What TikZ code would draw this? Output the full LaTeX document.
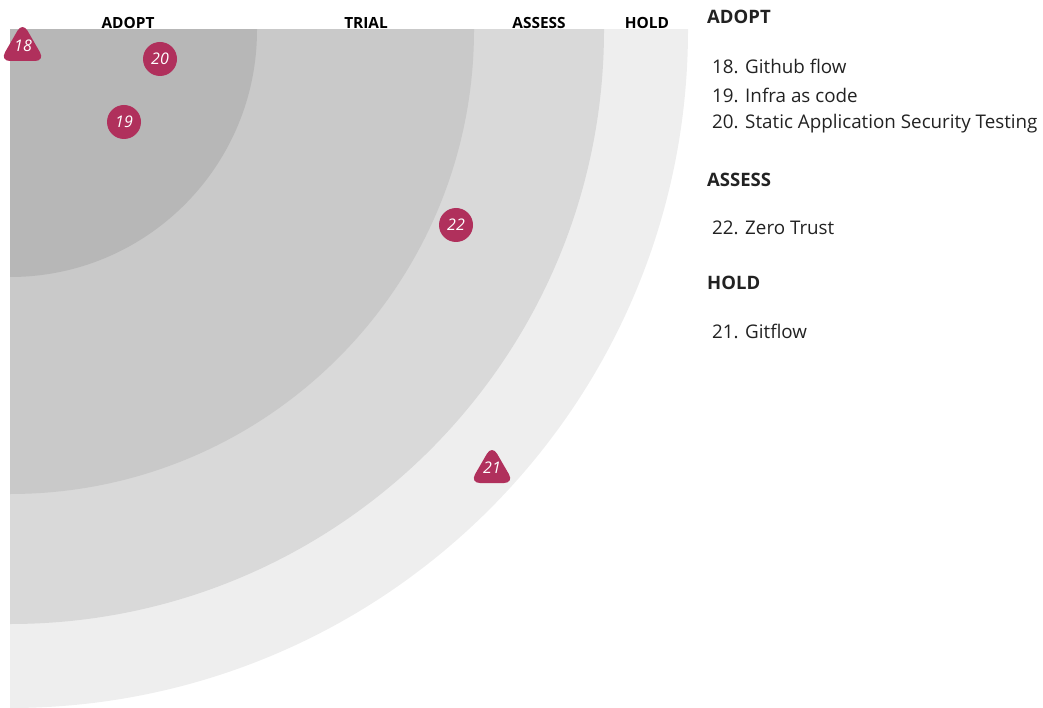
\documentclass[tikz,border=0pt]{standalone}
\usepackage{fontspec}
\setmainfont{Open Sans}
\definecolor{ringadopt}{HTML}{B7B7B7}
\definecolor{ringtrial}{HTML}{C9C9C9}
\definecolor{ringassess}{HTML}{D9D9D9}
\definecolor{ringhold}{HTML}{EEEEEE}
\definecolor{blipred}{HTML}{B0305C}
\definecolor{ink}{HTML}{222222}
\begin{document}
\begin{tikzpicture}[x=1pt,y=-1pt,
  ringlabel/.style={font=\fontsize{15.4}{17}\selectfont\bfseries, text=black, inner sep=0pt},
  legendhead/.style={font=\fontsize{18.5}{21}\selectfont\bfseries, text=ink, anchor=west, inner sep=0pt},
  legenditem/.style={font=\fontsize{18.8}{22}\selectfont, text=ink, anchor=west, inner sep=0pt},
  blipcircle/.style={circle, fill=blipred, minimum size=34pt, inner sep=0pt,
    font=\fontsize{16}{18}\selectfont\itshape, text=white},
  bliptext/.style={font=\fontsize{16}{18}\selectfont\itshape, text=white, inner sep=0pt},
  bliptri/.style={fill=blipred, rounded corners=10pt}]
\useasboundingbox (0,0) rectangle (1043,708);

% quarter rings, outermost first
\begin{scope}
  \clip (10,30) rectangle (1043,708);
  \fill[ringhold]   (10,30) circle[radius=678];
  \fill[ringassess] (10,30) circle[radius=594];
  \fill[ringtrial]  (10,30) circle[radius=464];
  \fill[ringadopt]  (10,30) circle[radius=247];
\end{scope}

% ring titles along the top
\node[ringlabel] (tadopt)  at (128,23) {ADOPT};
\node[ringlabel] (ttrial)  at (366,23) {TRIAL};
\node[ringlabel] (tassess) at (539,23) {ASSESS};
\node[ringlabel] (thold)   at (647,23) {HOLD};

% blips
\fill[bliptri] (22.5,22) -- (45,61) -- (0,61) -- cycle;
\node[bliptext] (b18) at (23,46) {18};
\node[blipcircle] (b20) at (160,59) {20};
\node[blipcircle] (b19) at (124,122) {19};
\node[blipcircle] (b22) at (456,225) {22};
\fill[bliptri] (492,445) -- (514,483) -- (470,483) -- cycle;
\node[bliptext] (b21) at (492,468) {21};

% legend
\node[legendhead] (ladopt) at (707,17) {ADOPT};
\node[legenditem] (l18) at (712,66) {18. Github flow};
\node[legenditem] (l19) at (712,95) {19. Infra as code};
\node[legenditem] (l20) at (712,124) {20. Static Application Security Testing};
\node[legendhead] (lassess) at (707,180) {ASSESS};
\node[legenditem] (l22) at (712,228) {22. Zero Trust};
\node[legendhead] (lhold) at (707,283) {HOLD};
\node[legenditem] (l21) at (712,331) {21. Gitflow};
\end{tikzpicture}
\end{document}
